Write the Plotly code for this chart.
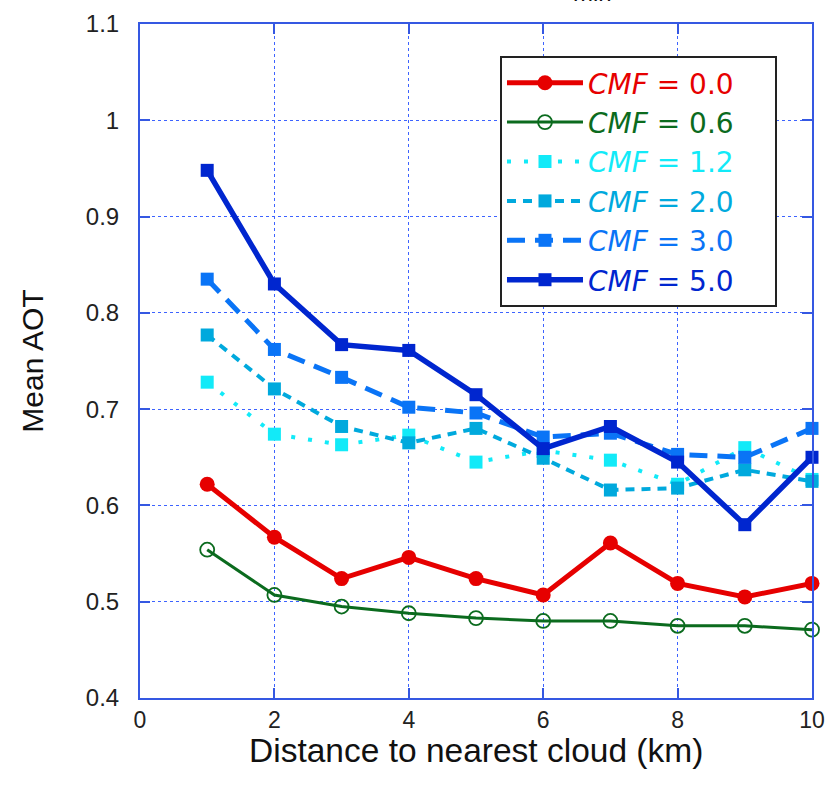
import plotly.graph_objects as go

# Distance to nearest cloud (km)
distance = [1, 2, 3, 4, 5, 6, 7, 8, 9, 10]

# Mean AOT for each cloud-mask factor (CMF)
aot_cmf_0_0 = [0.622, 0.567, 0.524, 0.546, 0.524, 0.507, 0.561, 0.519, 0.505, 0.519]
aot_cmf_0_6 = [0.554, 0.507, 0.495, 0.488, 0.483, 0.480, 0.480, 0.475, 0.475, 0.471]
aot_cmf_1_2 = [0.728, 0.674, 0.663, 0.673, 0.645, 0.657, 0.647, 0.622, 0.660, 0.627]
aot_cmf_2_0 = [0.777, 0.721, 0.682, 0.665, 0.680, 0.649, 0.616, 0.618, 0.637, 0.625]
aot_cmf_3_0 = [0.835, 0.762, 0.733, 0.702, 0.696, 0.671, 0.675, 0.653, 0.650, 0.680]
aot_cmf_5_0 = [0.948, 0.830, 0.767, 0.761, 0.715, 0.659, 0.682, 0.645, 0.580, 0.650]

cmf_labels = ["0.0", "0.6", "1.2", "2.0", "3.0", "5.0"]

y_tick_vals = [0.4, 0.5, 0.6, 0.7, 0.8, 0.9, 1.0, 1.1]
y_tick_text = ["0.4", "0.5", "0.6", "0.7", "0.8", "0.9", "1", "1.1"]
x_tick_vals = [0, 2, 4, 6, 8, 10]

AXIS_BLUE = "#3558e2"
GRID_BLUE = "#3d63ff"
FONT = "Liberation Sans, Arial, sans-serif"
LEGEND_FONT = "DejaVu Sans, Liberation Sans, sans-serif"


def legend_name(label, color):
    return (f'<span style="color:{color}"><i>CMF</i> = {label}</span>'
            "&nbsp;&nbsp;&nbsp;&nbsp;")


series = [
    dict(y=aot_cmf_0_0, label=cmf_labels[0], color="#e60000",
         line=dict(width=5, dash="solid"),
         marker=dict(symbol="circle", size=15)),
    dict(y=aot_cmf_0_6, label=cmf_labels[1], color="#0b6b1e",
         line=dict(width=3, dash="solid"),
         marker=dict(symbol="circle-open", size=14, line=dict(width=1.8))),
    dict(y=aot_cmf_1_2, label=cmf_labels[2], color="#12eaf8",
         line=dict(width=4, dash="4px,13px"),
         marker=dict(symbol="square", size=13)),
    dict(y=aot_cmf_2_0, label=cmf_labels[3], color="#00a9dd",
         line=dict(width=4, dash="9px,7px"),
         marker=dict(symbol="square", size=13)),
    dict(y=aot_cmf_3_0, label=cmf_labels[4], color="#0a74f6",
         line=dict(width=5, dash="18px,10px"),
         marker=dict(symbol="square", size=13)),
    dict(y=aot_cmf_5_0, label=cmf_labels[5], color="#0026cf",
         line=dict(width=5.5, dash="solid"),
         marker=dict(symbol="square", size=13)),
]

fig = go.Figure()
for s in series:
    line = dict(color=s["color"], **s["line"])
    marker = dict(color=s["color"], **s["marker"])
    if "line" in marker:
        marker["line"] = dict(color=s["color"], **s["marker"]["line"])
    fig.add_trace(go.Scatter(
        x=distance, y=s["y"], mode="lines+markers",
        name=legend_name(s["label"], s["color"]),
        line=line, marker=marker, cliponaxis=False,
    ))

axis_common = dict(
    showline=True, linecolor=AXIS_BLUE, linewidth=2, mirror="ticks",
    ticks="inside", ticklen=10, tickwidth=2, tickcolor=AXIS_BLUE,
    showgrid=True, gridcolor=GRID_BLUE, gridwidth=1.3, griddash="dot",
    zeroline=False, automargin=False,
    tickfont=dict(family=FONT, size=24, color="#222222"),
)

fig.update_xaxes(range=[0, 10], tickvals=x_tick_vals, ticklabelstandoff=0,
                 **axis_common)
fig.update_xaxes(tickfont=dict(family=FONT, size=23, color="#222222"))
fig.update_yaxes(
    range=[0.4, 1.1], tickvals=y_tick_vals, ticktext=y_tick_text,
    ticklabelstandoff=14,
    title=dict(text="Mean AOT",
               font=dict(family=FONT, size=30, color="#111111"), standoff=33),
    **axis_common,
)

# x-axis title, set close under the tick labels
fig.add_annotation(
    text="Distance to nearest cloud (km)", xref="paper", yref="paper",
    x=0.5, y=-0.0786, xanchor="center", yanchor="middle", showarrow=False,
    font=dict(family=FONT, size=33.5, color="#111111"),
)

fig.add_annotation(
    text="min", xref="paper", yref="paper", x=0.674, y=1.023,
    xanchor="center", yanchor="bottom", showarrow=False,
    font=dict(family=FONT, size=24, color="#111111"),
)

fig.update_layout(
    width=826, height=785,
    margin=dict(l=140, r=14, t=24, b=87),
    plot_bgcolor="white", paper_bgcolor="white",
    font=dict(family=FONT),
    legend=dict(
        x=0.5357, y=0.9525, xanchor="left", yanchor="top",
        bgcolor="white", bordercolor="#222222", borderwidth=2,
        font=dict(family=LEGEND_FONT, size=28),
        itemwidth=76, tracegroupgap=0,
    ),
    showlegend=True,
)

fig.write_html("out.html")
